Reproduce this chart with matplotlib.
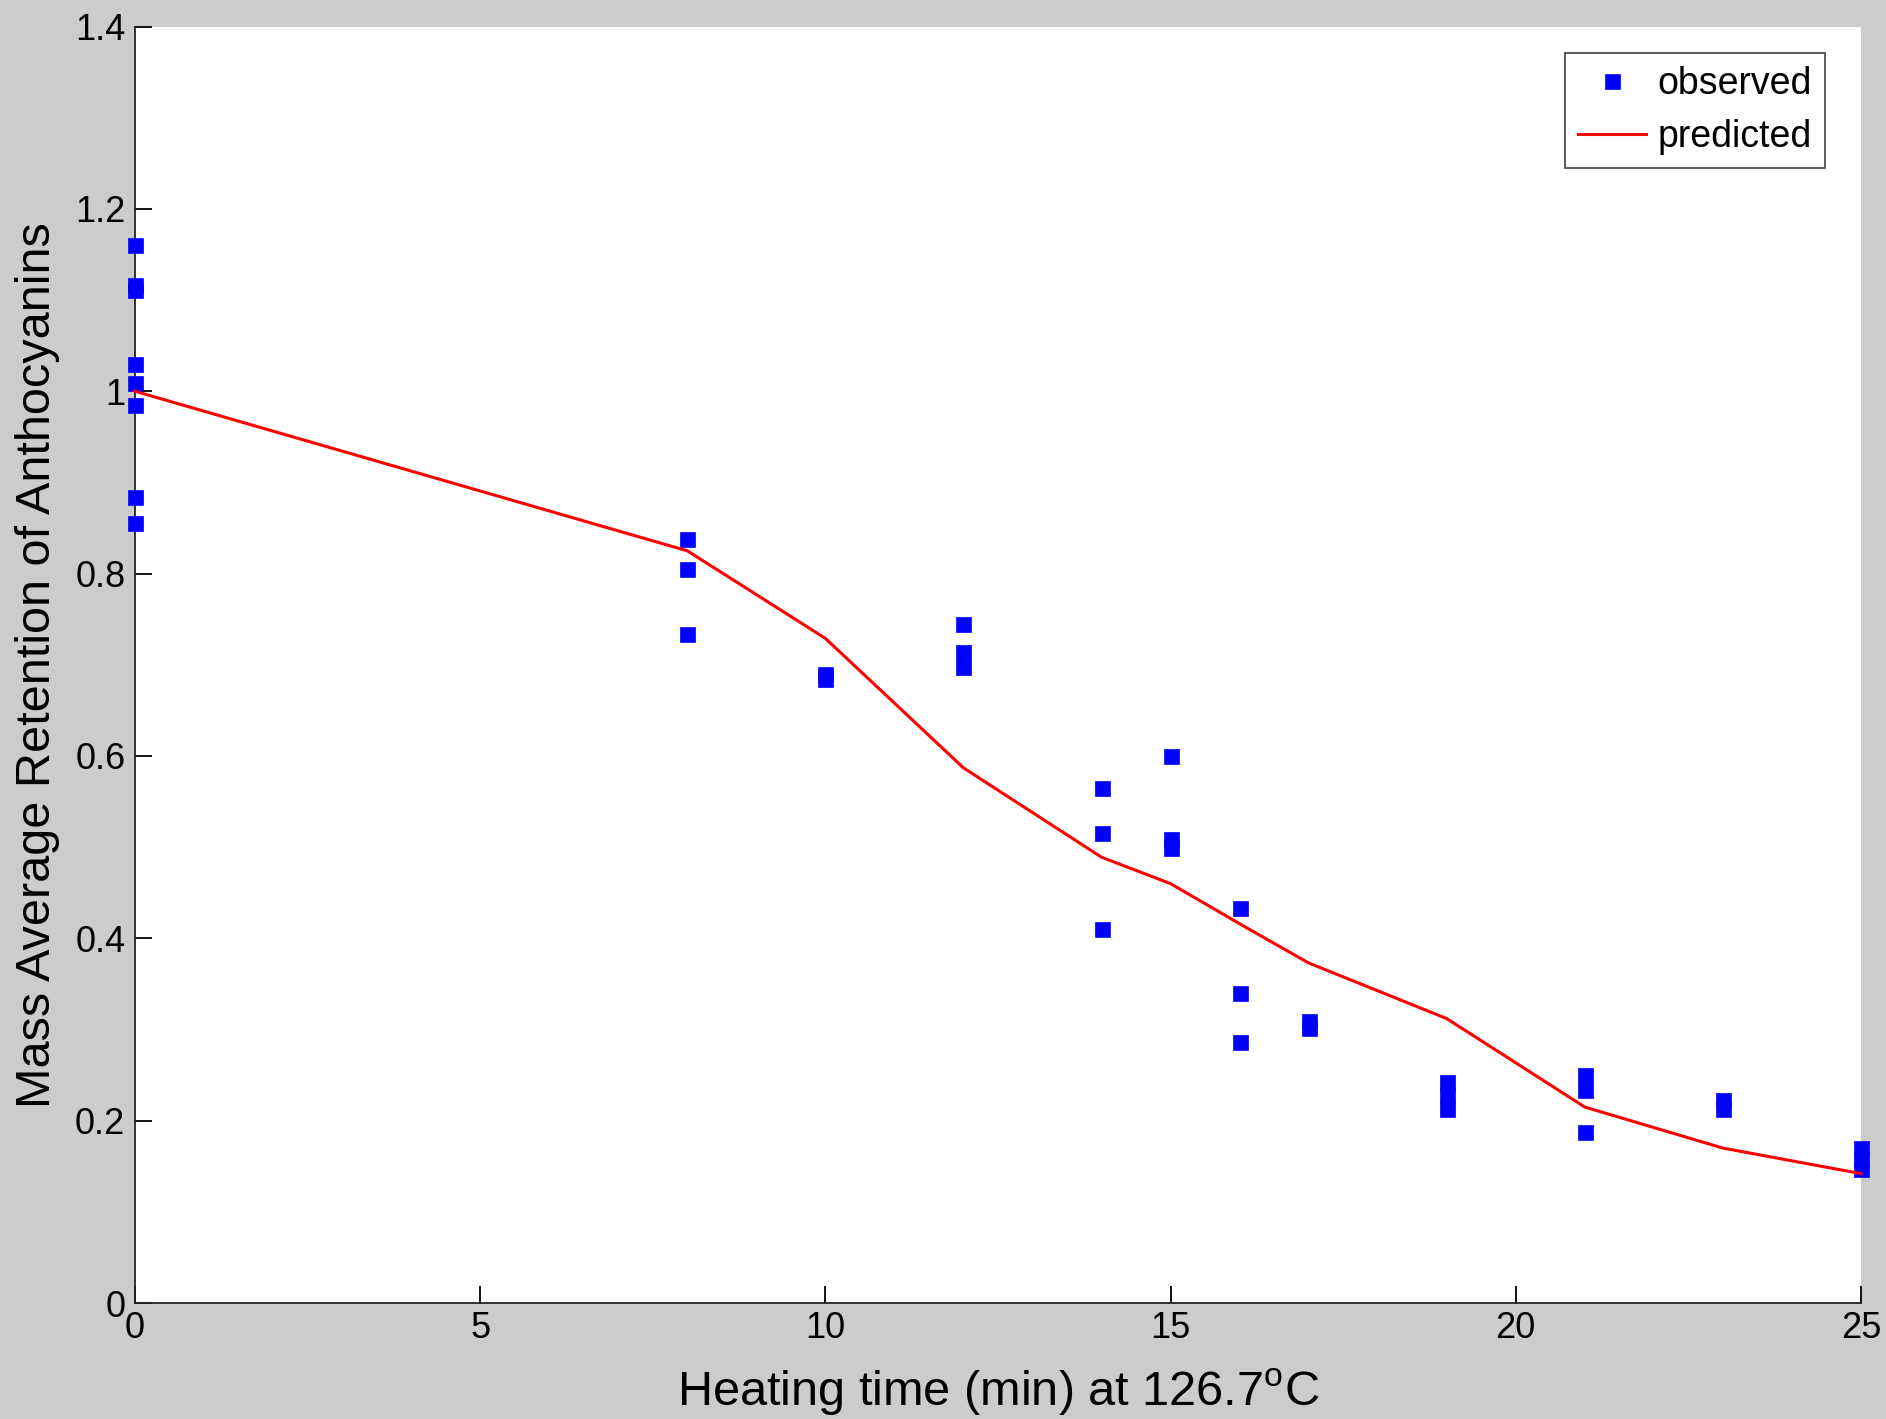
import matplotlib
matplotlib.use("Agg")
import matplotlib.pyplot as plt
from matplotlib.ticker import FormatStrFormatter

plt.rcParams['font.family'] = ['Liberation Sans', 'DejaVu Sans']
plt.rcParams['mathtext.fontset'] = 'custom'
plt.rcParams['mathtext.rm'] = 'Liberation Sans'

# observed retention
obs_time = [0, 0, 0, 0, 0, 0, 0, 0,
            8, 8, 8,
            10, 10,
            12, 12, 12,
            14, 14, 14,
            15, 15, 15,
            16, 16, 16,
            17, 17,
            19, 19, 19,
            21, 21, 21,
            23, 23,
            25, 25, 25]
obs_retention = [1.160, 1.117, 1.111, 1.030, 1.009, 0.985, 0.884, 0.855,
                 0.838, 0.805, 0.734,
                 0.690, 0.684,
                 0.745, 0.714, 0.698,
                 0.565, 0.515, 0.410,
                 0.600, 0.509, 0.499,
                 0.433, 0.340, 0.286,
                 0.309, 0.302,
                 0.242, 0.228, 0.213,
                 0.250, 0.234, 0.1875,
                 0.223, 0.213,
                 0.170, 0.158, 0.147]

# predicted curve
pred_time = [0, 8, 10, 12, 14, 15, 16, 17, 19, 21, 23, 25]
pred_retention = [1.0, 0.825, 0.729, 0.587, 0.489, 0.460, 0.416, 0.373,
                  0.312, 0.215, 0.170, 0.142]

xticks = [0, 5, 10, 15, 20, 25]
yticks = [0, 0.2, 0.4, 0.6, 0.8, 1.0, 1.2, 1.4]

fig = plt.figure(figsize=(18.86, 14.19), dpi=100, facecolor='#cccccc')
ax = fig.add_axes([0.0716, 0.0817, 0.9151, 0.8996])
ax.set_facecolor('white')

ax.plot(obs_time, obs_retention, linestyle='none', marker='s', markersize=10.8,
        color='#0000ff', markeredgecolor='#0000ff', markeredgewidth=0.5,
        clip_on=False, zorder=3, label='observed')
ax.plot(pred_time, pred_retention, color='#ff0000', linewidth=2.2,
        clip_on=False, zorder=4, label='predicted')

ax.set_xlim(0, 25)
ax.set_ylim(0, 1.4)
ax.set_xticks(xticks)
ax.set_yticks(yticks)
ax.yaxis.set_major_formatter(FormatStrFormatter('%g'))

for s in ['top', 'right']:
    ax.spines[s].set_visible(False)
for s in ['left', 'bottom']:
    ax.spines[s].set_linewidth(1.3)
    ax.spines[s].set_color('#222222')

ax.tick_params(direction='in', length=12, width=1.3, labelsize=26,
               colors='black')
ax.tick_params(axis='y', pad=7)
ax.tick_params(axis='x', pad=6)

ax.set_xlabel('Heating time (min) at 126.7$^{\\mathrm{o}}$C', fontsize=35,
              labelpad=15)
ax.set_ylabel('Mass Average Retention of Anthocyanins', fontsize=35,
              labelpad=11)

leg = ax.legend(loc='upper right', bbox_to_anchor=(0.979, 0.979),
                fontsize=27, frameon=True, fancybox=False,
                borderaxespad=0, handlelength=1.8, handletextpad=0.3,
                borderpad=0.35, labelspacing=0.45)
leg.get_frame().set_edgecolor('#222222')
leg.get_frame().set_linewidth(1.3)

fig.savefig('out.png', dpi=100, facecolor=fig.get_facecolor())
